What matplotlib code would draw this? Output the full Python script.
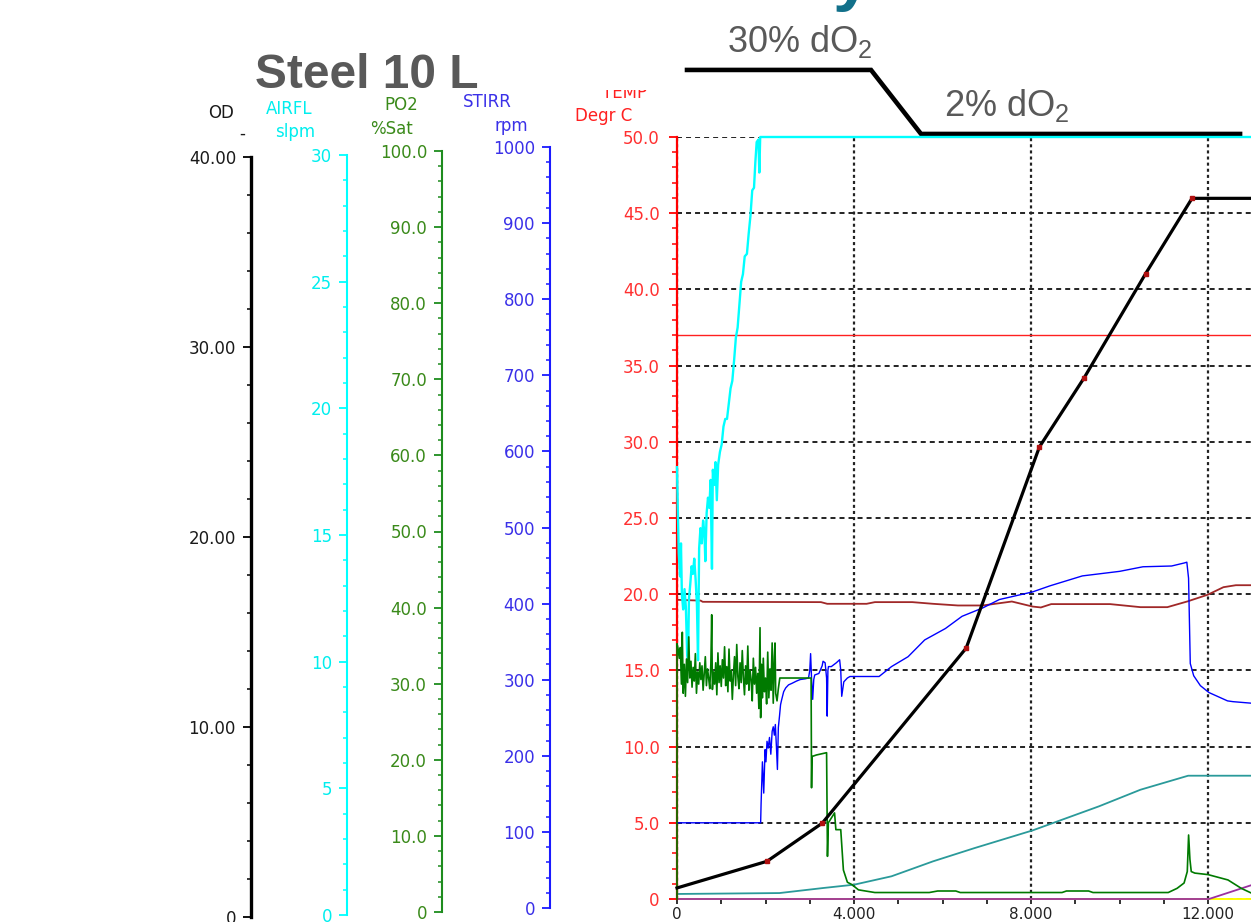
import matplotlib
matplotlib.use("Agg")
import matplotlib.pyplot as plt
from matplotlib.ticker import MultipleLocator, FuncFormatter
from matplotlib.patches import Rectangle

W, H = 1251, 922

# ---- run data (time in s) ----
od_t = [0, 2034, 3281, 6534, 8189, 9200, 10587, 11637, 12970]
od_val = [0.58, 1.98, 3.98, 13.17, 23.73, 27.36, 32.82, 36.78, 36.78]

airflow_t = [0, 15, 40, 70, 90, 110, 140, 170, 200, 230, 250, 270, 300, 330, 360,
             390, 420, 450, 475, 500, 530, 560, 590, 620, 640, 670, 700, 730, 760,
             790, 810, 840, 870, 900, 930, 970, 1010, 1050, 1090, 1130, 1170, 1210,
             1250, 1290, 1330, 1370, 1410, 1450, 1490, 1530, 1580, 1620, 1660, 1700,
             1740, 1770, 1800, 1840, 1860, 1880, 12970]
airflow_val = [17.0, 15.6, 13.6, 12.7, 14.0, 12.0, 11.4, 12.2, 11.5, 9.6, 9.4, 11.8,
               12.4, 13.1, 12.8, 13.4, 12.6, 11.6, 9.4, 13.8, 14.6, 14.0, 14.9, 14.4,
               13.3, 15.2, 15.8, 15.4, 16.5, 13.0, 16.9, 16.3, 17.2, 15.7, 17.1, 17.6,
               17.9, 18.6, 18.9, 18.9, 19.5, 20.1, 20.4, 21.2, 22.1, 22.5, 23.4, 24.3,
               24.6, 25.3, 25.4, 26.2, 26.9, 27.9, 28.0, 29.0, 29.8, 29.9, 28.6, 30.0,
               30.0]

po2_t = [0, 0, 25, 50, 75, 100, 120, 140, 165, 190, 215, 240, 265, 290, 315, 340,
         365, 390, 415, 440, 465, 490, 515, 540, 565, 590, 615, 640, 665, 690, 715,
         740, 765, 784, 800, 825, 850, 875, 900, 925, 950, 975, 1000, 1025, 1050,
         1075, 1100, 1125, 1150, 1175, 1200, 1225, 1250, 1275, 1300, 1325, 1350,
         1375, 1400, 1425, 1450, 1475, 1500, 1525, 1550, 1575, 1600, 1625, 1650,
         1675, 1700, 1725, 1750, 1775, 1800, 1825, 1850, 1876, 1890, 1910, 1930,
         1950, 1975, 2000, 2025, 2050, 2075, 2100, 2125, 2150, 2175, 2200, 2215,
         2230, 2260, 2290, 2323, 2400, 3000, 3030, 3040, 3050, 3150, 3380, 3400,
         3420, 3560, 3590, 3700, 3760, 3850, 3950, 4100, 4470, 5700, 5890, 6300,
         6400, 8700, 8800, 9300, 9400, 11100, 11300, 11458, 11530, 11560, 11590,
         11620, 11700, 12000, 12450, 12750, 12970]
po2_val = [0.0, 33.5, 32.8, 31.6, 33.0, 28.2, 35.0, 27.0, 30.8, 26.6, 31.5, 28.4,
           34.4, 29.0, 31.2, 27.8, 30.4, 28.6, 32.2, 27.0, 29.8, 28.2, 31.0, 28.8,
           30.6, 27.4, 29.6, 31.8, 28.0, 30.2, 29.0, 27.6, 30.8, 37.3, 27.5, 29.8,
           28.2, 31.0, 26.8, 32.3, 28.4, 30.6, 27.9, 31.4, 29.0, 33.1, 28.0, 30.5,
           27.2, 32.8, 28.6, 30.0, 26.2, 29.4, 31.8, 28.0, 33.4, 29.2, 27.6, 31.0,
           28.4, 32.6, 29.0, 26.8, 30.6, 28.2, 33.2, 27.4, 30.0, 28.8, 26.0, 31.6,
           28.2, 30.4, 27.0, 29.6, 25.0, 35.6, 23.8, 30.8, 26.4, 31.6, 27.2, 29.0,
           25.6, 32.4, 26.4, 30.2, 27.4, 33.6, 25.7, 31.8, 33.6, 27.0, 26.0, 27.6,
           29.0, 29.0, 29.0, 29.0, 14.6, 18.7, 18.9, 19.2, 5.6, 10.0, 11.3, 9.1,
           9.1, 3.8, 2.2, 1.9, 1.2, 0.85, 0.85, 1.05, 1.05, 0.85, 0.85, 1.05, 1.05,
           0.85, 0.85, 1.4, 2.1, 3.6, 8.4, 5.2, 3.6, 3.4, 3.2, 2.5, 1.4, 0.8]

stirr_t = [0, 1890, 1900, 1930, 1960, 1990, 2010, 2034, 2060, 2090, 2120, 2150,
           2175, 2200, 2222, 2248, 2269, 2290, 2316, 2340, 2363, 2410, 2456, 2520,
           2597, 2700, 2784, 2900, 2972, 3000, 3019, 3040, 3066, 3090, 3112, 3206,
           3280, 3300, 3347, 3380, 3394, 3410, 3422, 3487, 3600, 3675, 3700, 3722,
           3769, 3850, 3909, 4566, 4847, 5222, 5597, 6066, 6441, 6909, 7284, 8034,
           8429, 9159, 10003, 10529, 11177, 11463, 11520, 11559, 11598, 11675,
           11826, 12018, 12439, 12560, 12970]
stirr_val = [100, 100, 125, 180, 139, 196, 180, 207, 198, 212, 190, 220, 226, 215,
             229, 198, 170, 225, 240, 255, 261, 272, 277, 281, 283, 286, 288, 289,
             290, 300, 322, 290, 262, 288, 294, 296, 306, 312, 310, 290, 240, 300,
             305, 305, 310, 314, 300, 266, 285, 290, 292, 292, 305, 318, 340, 355,
             371, 382, 393, 403, 411, 424, 430, 436, 437, 441, 442, 421, 309, 293,
             280, 271, 260, 259, 257]

temp_t = [0, 12970]
temp_val = [37.0, 37.0]

# unlabelled channels, in units of the 0-50 frame scale
brown_t = [0, 534, 581, 3253, 3394, 4284, 4472, 5316, 5784, 6347, 6909, 7566,
           8034, 8222, 8456, 9786, 10472, 11080, 11538, 11996, 12347, 12628, 12970]
brown_val = [19.63, 19.58, 19.50, 19.48, 19.37, 19.37, 19.48, 19.48, 19.37, 19.26,
             19.26, 19.52, 19.19, 19.13, 19.35, 19.35, 19.15, 19.15, 19.53, 19.97,
             20.46, 20.59, 20.59]
teal_t = [0, 2316, 3300, 4003, 4847, 5784, 6722, 8034, 9534, 10472, 11550, 12970]
teal_val = [0.33, 0.39, 0.72, 0.94, 1.49, 2.47, 3.34, 4.50, 6.08, 7.17, 8.09, 8.09]
magenta_t = [0, 12020, 12970]
magenta_val = [0.0, 0.0, 0.9]
yellow_t = [0, 12970]
yellow_val = [0.0, 0.0]

# dO2 setpoint sketch above the frame
do2_profile_t = [226, 4384, 5514, 12723]
do2_profile_y = [54.4, 54.4, 50.2, 50.2]

plt.rcParams["font.family"] = "DejaVu Sans"
plt.rcParams["lines.scale_dashes"] = False
plt.rcParams["mathtext.fontset"] = "custom"
plt.rcParams["mathtext.rm"] = "Liberation Sans"

fig = plt.figure(figsize=(W / 100, H / 100), dpi=100)

TICK_FS = 12


def rect(l, t, r, b):
    return [l / W, 1 - b / H, (r - l) / W, (b - t) / H]


def put(x, y, s, **kw):
    return fig.text(x / W, 1 - y / H, s, **kw)


def zero_or(fmt):
    return FuncFormatter(lambda v, p: "0" if abs(v) < 1e-9 else fmt.format(v))


# ---- main frame (TEMP scale) ----
ax = fig.add_axes(rect(677, 137, 1251, 899))
ax.set_xlim(0, 12970)
ax.set_ylim(0, 50)
ax.patch.set_visible(False)
for k in ("top", "right", "bottom"):
    ax.spines[k].set_visible(False)
ax.spines["left"].set_color("#ff0000")
ax.spines["left"].set_linewidth(1.6)
ax.yaxis.set_major_locator(MultipleLocator(5))
ax.yaxis.set_minor_locator(MultipleLocator(1))
ax.yaxis.set_major_formatter(zero_or("{:.1f}"))
ax.xaxis.set_major_locator(MultipleLocator(4000))
ax.xaxis.set_minor_locator(MultipleLocator(1000))
ax.xaxis.set_major_formatter(FuncFormatter(lambda v, p: "0" if v == 0 else f"{v / 1000:.3f}"))
ax.tick_params(axis="y", which="major", length=6, width=1.3, color="#ff0000",
               labelcolor="#ff3030", labelsize=TICK_FS, pad=6.5)
ax.tick_params(axis="y", which="minor", length=3.6, width=1.1, color="#ff0000")
ax.tick_params(axis="x", which="both", length=3.3, width=1.3, color="#222222",
               labelcolor="#222222", labelsize=11, pad=2.3)
ax.xaxis.grid(True, which="major", linestyle=(0, (2.2, 2.2)), linewidth=1.6, color="#222222")
ax.yaxis.grid(True, which="major", linestyle=(0, (3.6, 2.9)), linewidth=1.4, color="#222222")
ax.set_axisbelow(True)

ax.plot(yellow_t, yellow_val, color="#ffff00", lw=1.4, clip_on=False)
ax.plot(magenta_t, magenta_val, color="#9b30a0", lw=1.3, clip_on=False)
ax.plot(teal_t, teal_val, color="#2a9a9a", lw=1.3, clip_on=False)
ax.plot(brown_t, brown_val, color="#a02828", lw=1.3, clip_on=False)
ax.plot(temp_t, temp_val, color="#ff2020", lw=1.0, clip_on=False)


def overlay(vmax):
    tw = ax.twinx()
    tw.set_ylim(0, vmax)
    tw.set_axis_off()
    return tw


overlay(30).plot(airflow_t, airflow_val, color="#00ffff", lw=1.7, clip_on=False)
overlay(1000).plot(stirr_t, stirr_val, color="#0000ff", lw=1.0, clip_on=False)
overlay(100).plot(po2_t, po2_val, color="#007a00", lw=1.2, clip_on=False)
ax_od = overlay(40)
ax_od.plot(od_t, od_val, color="black", lw=2.3, clip_on=False)
ax_od.plot(od_t[1:-1], od_val[1:-1], ls="none", marker="s", ms=3, color="#b01010",
           clip_on=False)

ax.plot(do2_profile_t, do2_profile_y, color="black", lw=3.3, clip_on=False,
        solid_joinstyle="miter", zorder=5)


# ---- separate scales on the left ----
def side_axis(x, top, bottom, vmax, major, minor, fmt, color, labelcolor, lw):
    sa = fig.add_axes(rect(x, top, x + 1, bottom))
    sa.patch.set_visible(False)
    for k in ("top", "right", "bottom"):
        sa.spines[k].set_visible(False)
    sa.spines["left"].set_color(color)
    sa.spines["left"].set_linewidth(lw)
    sa.set_xticks([])
    sa.set_ylim(0, vmax)
    sa.yaxis.set_major_locator(MultipleLocator(major))
    sa.yaxis.set_minor_locator(MultipleLocator(minor))
    sa.yaxis.set_major_formatter(fmt)
    sa.tick_params(axis="y", which="major", length=5.8, width=1.3, color=color,
                   labelcolor=labelcolor, labelsize=TICK_FS, pad=5)
    sa.tick_params(axis="y", which="minor", length=3.2, width=1.1, color=color)
    return sa


side_axis(251, 157, 917, 40, 10, 2, zero_or("{:.2f}"), "black", "#1a1a1a", 2.4)
side_axis(347, 155, 915, 30, 5, 1, zero_or("{:.0f}"), "#00ffff", "#00eeee", 1.5)
side_axis(442, 151, 912, 100, 10, 2, zero_or("{:.1f}"), "#1e8c1e", "#3a8a1a", 1.5)
side_axis(550, 147, 908, 1000, 100, 20, zero_or("{:.0f}"), "#1a1aff", "#3a30e8", 1.5)

# ---- scale headers ----
hdr = dict(fontsize=12, ha="center", va="center")
put(221, 113, "OD", color="#1a1a1a", **hdr)
put(242, 134, "-", color="#1a1a1a", **hdr)
put(289, 109, "AIRFL", color="#00eeee", **hdr)
put(295, 132, "slpm", color="#00eeee", **hdr)
put(401, 105, "PO2", color="#3a8a1a", **hdr)
put(392, 129, "%Sat", color="#3a8a1a", **hdr)
put(487, 102, "STIRR", color="#3a30e8", **hdr)
put(511, 126, "rpm", color="#3a30e8", **hdr)
put(625, 93, "TEMP", color="#ff2020", **hdr)
put(604, 116, "Degr C", color="#ff2020", **hdr)
fig.add_artist(Rectangle((580 / W, 1 - 90 / H), 90 / W, 90 / H, transform=fig.transFigure,
                         facecolor="white", edgecolor="none", zorder=10))

# ---- slide annotations ----
slide = dict(family="Liberation Sans", color="#595959", va="baseline", ha="left")
put(255, 88, "Steel 10 L", fontsize=34.5, fontweight="bold", **slide)
put(727, 52, r"30% dO$_\mathrm{2}$", fontsize=26, **slide)
put(944, 116, r"2% dO$_\mathrm{2}$", fontsize=26, **slide)
put(832, -2, "y", fontsize=50, fontweight="bold", family="Liberation Sans",
    color="#12708a", va="baseline", ha="left")

fig.savefig("out.png", dpi=100)
